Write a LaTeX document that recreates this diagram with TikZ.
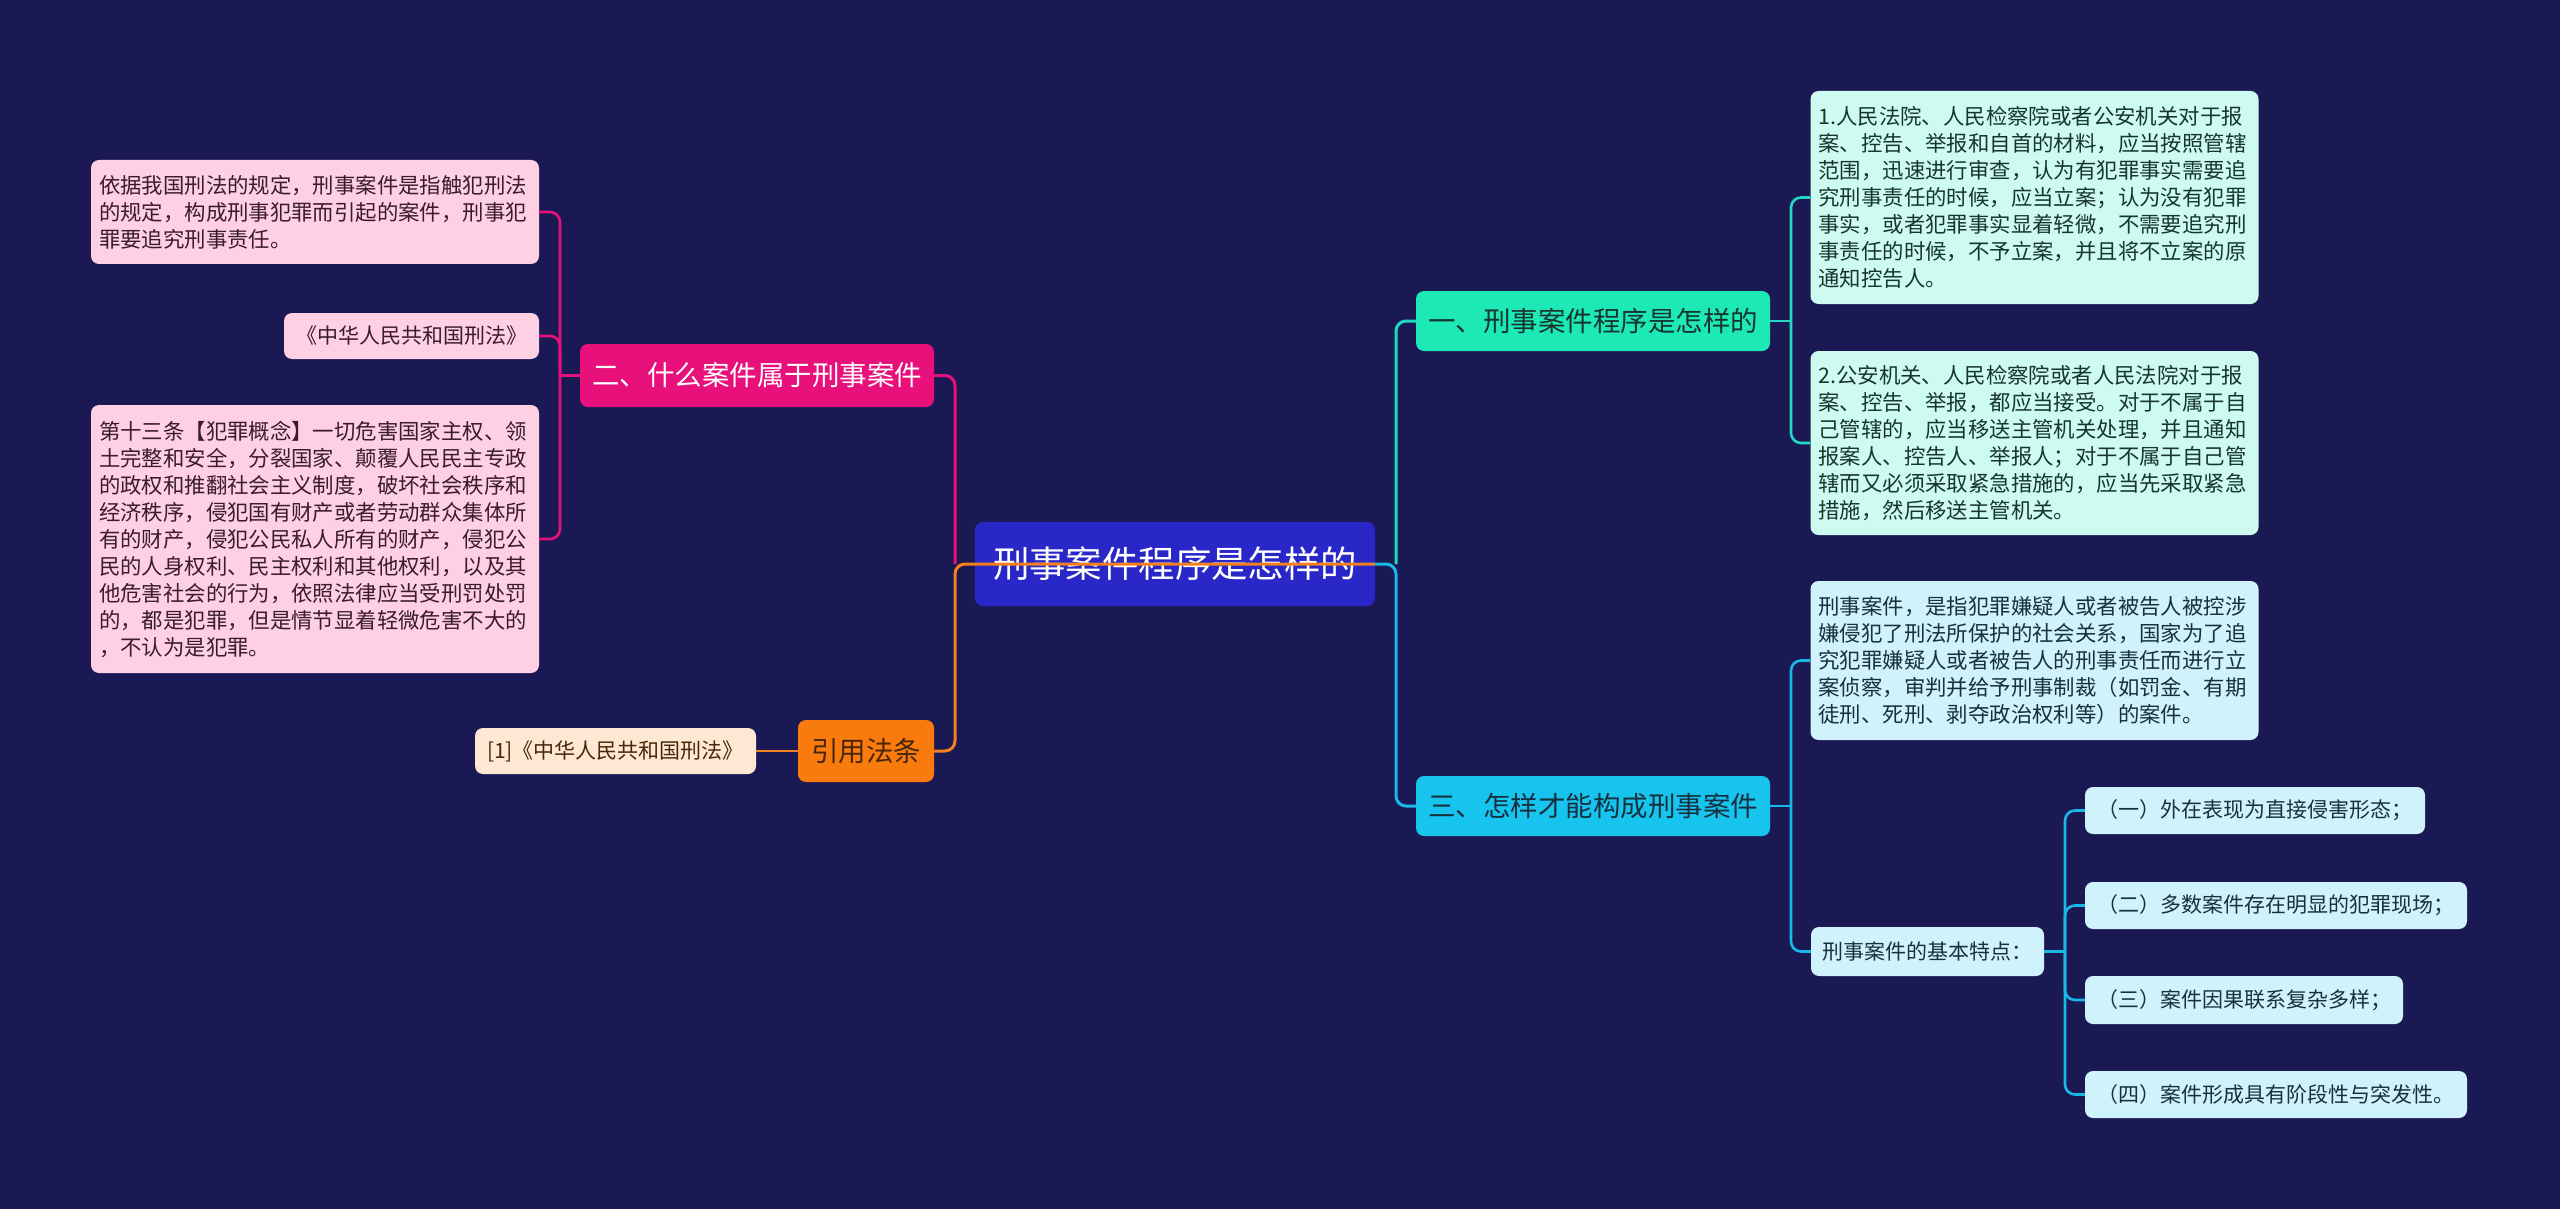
\documentclass[tikz,border=0pt]{standalone}
\usepackage{fontspec}
\newfontfamily\cjk{Noto Sans CJK SC}
\definecolor{bg}{HTML}{1B1954}
\definecolor{rootc}{HTML}{2A27C9}
\definecolor{pinkc}{HTML}{E8107A}
\definecolor{pinkleaf}{HTML}{FFCFE3}
\definecolor{orangec}{HTML}{FA7B0D}
\definecolor{orangeline}{HTML}{F5801E}
\definecolor{peach}{HTML}{FFE8D3}
\definecolor{tealc}{HTML}{1CE9B6}
\definecolor{tealline}{HTML}{22D8C0}
\definecolor{mint}{HTML}{CDFBF0}
\definecolor{cyanc}{HTML}{16C4EE}
\definecolor{cyanline}{HTML}{18B8E8}
\definecolor{lightcyan}{HTML}{D0F2FC}
\definecolor{darktext}{HTML}{2B2B2B}
\definecolor{tealtext}{HTML}{17352F}
\definecolor{cyantext}{HTML}{17303F}
\definecolor{pinktext}{HTML}{3A1C2A}
\definecolor{citetext}{HTML}{4A2608}
\begin{document}
\begin{tikzpicture}[x=1pt,y=-1pt,
  box/.style={rounded corners=8pt, inner ysep=0pt, anchor=center},
  leaf/.style={box, inner xsep=8pt, text width=432pt, align=left,
    font=\cjk\fontsize{21.4}{27}\selectfont},
  small/.style={box, inner xsep=0pt, align=center,
    font=\cjk\fontsize{21}{25}\selectfont},
  mid/.style={box, inner xsep=0pt, align=center,
    font=\cjk\fontsize{27.5}{32}\selectfont},
  conn/.style={line width=3pt, rounded corners=10pt},
  lconn/.style={line width=2.6pt, rounded corners=10pt}
]
\fill[bg] (0,0) rectangle (2560,1209);
\useasboundingbox (0,0) rectangle (2560,1209);

% root
\node[box, fill=rootc, text=white, minimum width=400pt, minimum height=84pt,
  font=\cjk\fontsize{36.4}{40}\selectfont] (root) at (1175,564) {刑事案件程序是怎样的};

% left branch: pink
\node[mid, fill=pinkc, text=white, minimum width=354pt, minimum height=63pt] (two) at (757,375.5) {二、什么案件属于刑事案件};
\node[leaf, fill=pinkleaf, text=pinktext, minimum height=104pt] (pl1) at (315,212) {依据我国刑法的规定，刑事案件是指触犯刑法\\的规定，构成刑事犯罪而引起的案件，刑事犯\\罪要追究刑事责任。};
\node[small, fill=pinkleaf, text=pinktext, minimum width=255pt, minimum height=46pt] (pl2) at (411.5,336) {《中华人民共和国刑法》};
\node[leaf, fill=pinkleaf, text=pinktext, minimum height=268pt] (pl3) at (315,539) {第十三条【犯罪概念】一切危害国家主权、领\\土完整和安全，分裂国家、颠覆人民民主专政\\的政权和推翻社会主义制度，破坏社会秩序和\\经济秩序，侵犯国有财产或者劳动群众集体所\\有的财产，侵犯公民私人所有的财产，侵犯公\\民的人身权利、民主权利和其他权利，以及其\\他危害社会的行为，依照法律应当受刑罚处罚\\的，都是犯罪，但是情节显着轻微危害不大的\\，不认为是犯罪。};

% left branch: orange
\node[mid, fill=orangec, text=citetext, minimum width=136pt, minimum height=62pt] (cite) at (866,751) {引用法条};
\node[small, fill=peach, text=citetext, minimum width=281pt, minimum height=46pt] (citeleaf) at (615.5,751) {[1]《中华人民共和国刑法》};

% right branch: teal
\node[mid, fill=tealc, text=tealtext, minimum width=354pt, minimum height=60pt] (one) at (1593,321) {一、刑事案件程序是怎样的};
\node[leaf, fill=mint, text=tealtext, minimum height=213pt] (tl1) at (2034.5,197.5) {1.人民法院、人民检察院或者公安机关对于报\\案、控告、举报和自首的材料，应当按照管辖\\范围，迅速进行审查，认为有犯罪事实需要追\\究刑事责任的时候，应当立案；认为没有犯罪\\事实，或者犯罪事实显着轻微，不需要追究刑\\事责任的时候，不予立案，并且将不立案的原\\通知控告人。};
\node[leaf, fill=mint, text=tealtext, minimum height=184pt] (tl2) at (2034.5,443) {2.公安机关、人民检察院或者人民法院对于报\\案、控告、举报，都应当接受。对于不属于自\\己管辖的，应当移送主管机关处理，并且通知\\报案人、控告人、举报人；对于不属于自己管\\辖而又必须采取紧急措施的，应当先采取紧急\\措施，然后移送主管机关。};

% right branch: cyan
\node[mid, fill=cyanc, text=cyantext, minimum width=354pt, minimum height=60pt] (three) at (1593,806) {三、怎样才能构成刑事案件};
\node[leaf, fill=lightcyan, text=cyantext, minimum height=159pt] (cl1) at (2034.5,660.5) {刑事案件，是指犯罪嫌疑人或者被告人被控涉\\嫌侵犯了刑法所保护的社会关系，国家为了追\\究犯罪嫌疑人或者被告人的刑事责任而进行立\\案侦察，审判并给予刑事制裁（如罚金、有期\\徒刑、死刑、剥夺政治权利等）的案件。};
\node[small, fill=lightcyan, text=cyantext, minimum width=233pt, minimum height=49pt] (feat) at (1927.5,951.5) {刑事案件的基本特点：};
\node[small, fill=lightcyan, text=cyantext, minimum width=340pt, minimum height=47pt] (s1) at (2255,810.5) {（一）外在表现为直接侵害形态；};
\node[small, fill=lightcyan, text=cyantext, minimum width=382pt, minimum height=47pt] (s2) at (2276,905.5) {（二）多数案件存在明显的犯罪现场；};
\node[small, fill=lightcyan, text=cyantext, minimum width=318pt, minimum height=48pt] (s3) at (2244,1000) {（三）案件因果联系复杂多样；};
\node[small, fill=lightcyan, text=cyantext, minimum width=382pt, minimum height=47pt] (s4) at (2276,1094.5) {（四）案件形成具有阶段性与突发性。};

% junctions
\coordinate (jL) at (955,564);
\coordinate (jR) at (1396,564);
\coordinate (jP) at (560,375.5);
\coordinate (jT) at (1791,321);
\coordinate (jC) at (1791,806);
\coordinate (jF) at (2065,951.5);

% root connectors
\draw[conn, orangeline] (root.east) -- (jL) |- (cite.east);
\draw[conn, pinkc] (jL) |- (two.east);
\draw[conn, cyanline] (root.east) -- (jR) |- (three.west);
\draw[conn, tealline] (jR) |- (one.west);

% pink leaves
\draw[lconn, pinkc] (two.west) -- (jP);
\draw[lconn, pinkc] (jP) |- (pl1.east);
\draw[lconn, pinkc] (jP) |- (pl2.east);
\draw[lconn, pinkc] (jP) |- (pl3.east);

% orange leaf
\draw[lconn, orangeline] (cite.west) -- (citeleaf.east);

% teal leaves
\draw[lconn, tealline] (one.east) -- (jT);
\draw[lconn, tealline] (jT) |- (tl1.west);
\draw[lconn, tealline] (jT) |- (tl2.west);

% cyan leaves
\draw[lconn, cyanline] (three.east) -- (jC);
\draw[lconn, cyanline] (jC) |- (cl1.west);
\draw[lconn, cyanline] (jC) |- (feat.west);
\draw[lconn, cyanline] (feat.east) -- (jF);
\draw[lconn, cyanline] (jF) |- (s1.west);
\draw[lconn, cyanline] (jF) |- (s2.west);
\draw[lconn, cyanline] (jF) |- (s3.west);
\draw[lconn, cyanline] (jF) |- (s4.west);
\end{tikzpicture}
\end{document}
